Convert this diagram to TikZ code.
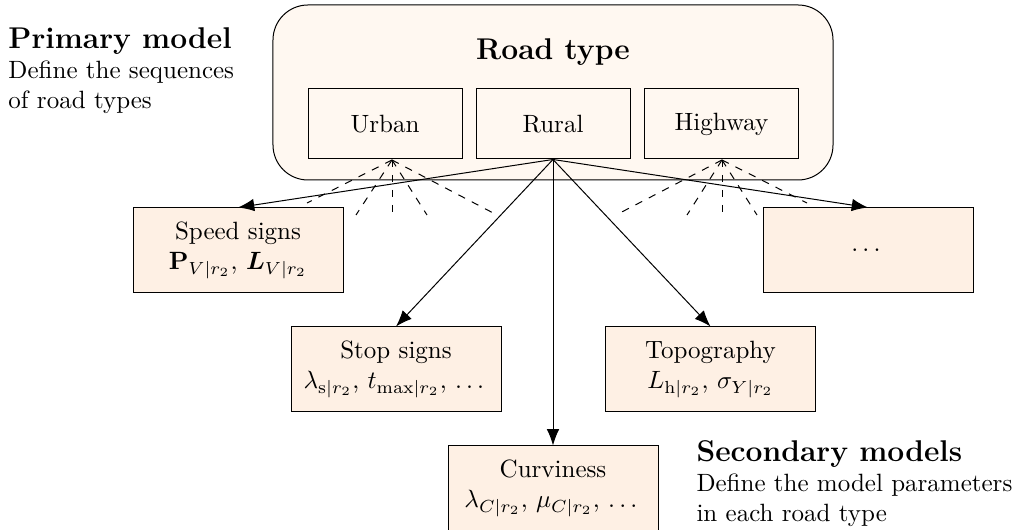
\documentclass[tikz,border=0pt]{standalone}
\usepackage{amsmath}
\usetikzlibrary{arrows.meta}
\definecolor{outerfill}{RGB}{255,248,241}
\definecolor{boxfill}{RGB}{254,240,228}
\begin{document}
\begin{tikzpicture}[x=0.4pt,y=-0.4pt,
  rtbox/.style={draw, minimum width=61.6pt, minimum height=28pt, inner sep=0pt},
  subbox/.style={draw, fill=boxfill, minimum width=84pt, minimum height=34pt, align=center, inner sep=0pt},
  arr/.style={-{Latex[length=6.5pt,width=5pt]}},
  dsh/.style={dashed},
  sidetext/.style={align=left, inner sep=0pt, anchor=north west}]
\useasboundingbox (0,0) rectangle (1013,530);
% primary
\node[draw, fill=outerfill, rounded corners=14pt, minimum width=224pt, minimum height=70pt, inner sep=0pt] (outer) at (553,92.5) {};
\node (title) at (553,52) {\large\bfseries Road type};
\node[rtbox] (urban) at (385,124) {Urban};
\node[rtbox] (rural) at (553,124) {Rural};
\node[rtbox] (highway) at (721.5,124) {Highway};
% secondary boxes
\node[subbox] (speed) at (238,250.5) {Speed signs\\ $\mathbf{P}_{V|r_2}$, $\boldsymbol{L}_{V|r_2}$};
\node[subbox] (more) at (868,250.5) {$\dots$};
\node[subbox] (stop) at (396,369.5) {Stop signs\\ $\lambda_{\mathrm{s}|r_2}$, $t_{\mathrm{max}|r_2}$, $\dots$};
\node[subbox] (topo) at (710.5,369.5) {Topography\\ $L_{\mathrm{h}|r_2}$, $\sigma_{Y|r_2}$};
\node[subbox] (curv) at (553,488.5) {Curviness\\ $\lambda_{C|r_2}$, $\mu_{C|r_2}$, $\dots$};
% side texts
\node[sidetext] (prim) at (8,27) {{\large\bfseries Primary model}\\ Define the sequences\\ of road types};
\node[sidetext] (sec) at (696,440) {{\large\bfseries Secondary models}\\ Define the model parameters\\ in each road type};
% dashed fans
\coordinate (uo) at (392,160);
\coordinate (ho) at (722,160);
\coordinate (u1) at (307,203);
\coordinate (u2) at (356,215);
\coordinate (u3) at (392,218);
\coordinate (u4) at (427,215);
\coordinate (u5) at (497,215);
\coordinate (h1) at (616,215);
\coordinate (h2) at (687,215);
\coordinate (h3) at (722,218);
\coordinate (h4) at (757,215);
\coordinate (h5) at (807,203);
\foreach \i in {1,...,5} {
  \draw[dsh] (uo) -- (u\i);
  \draw[dsh] (ho) -- (h\i);
}
% arrows
\draw[arr] (rural.south) -- (speed.north);
\draw[arr] (rural.south) -- (stop.north);
\draw[arr] (rural.south) -- (curv.north);
\draw[arr] (rural.south) -- (topo.north);
\draw[arr] (rural.south) -- (more.north);
\end{tikzpicture}
\end{document}
